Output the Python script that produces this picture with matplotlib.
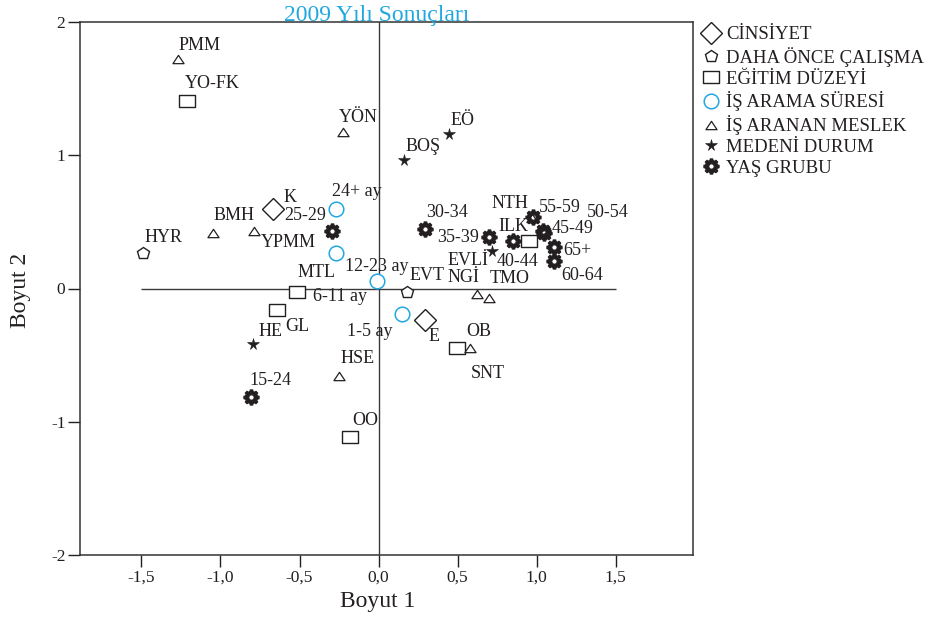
import numpy as np
import matplotlib
matplotlib.use('Agg')
import matplotlib.pyplot as plt
from matplotlib.path import Path
from matplotlib.lines import Line2D

plt.rcParams['font.family'] = ['Liberation Serif', 'DejaVu Serif']

# ---- data (Boyut 1, Boyut 2) ----
cinsiyet_names = ['K', 'E']
cinsiyet_x = [-0.668, 0.294]
cinsiyet_y = [0.593, -0.240]

calisma_names = ['HYR', 'EVT']
calisma_x = [-1.490, 0.180]
calisma_y = [0.263, -0.023]

egitim_names = ['YO-FK', 'MTL', 'GL', 'OB', 'OO', 'ILK']
egitim_x = [-1.212, -0.516, -0.642, 0.497, -0.180, 0.953]
egitim_y = [1.410, -0.023, -0.158, -0.450, -1.111, 0.353]

arama_names = ['24+ ay', '12-23 ay', '6-11 ay', '1-5 ay']
arama_x = [-0.269, -0.269, -0.009, 0.149]
arama_y = [0.593, 0.270, 0.053, -0.195]

meslek_names = ['PMM', 'YÖN', 'BMH', 'YPMM', 'HSE', 'NGİ', 'TMO', 'SNT', 'NTH']
meslek_x = [-1.269, -0.225, -1.047, -0.788, -0.250, 0.623, 0.699, 0.579, 0.970]
meslek_y = [1.726, 1.171, 0.420, 0.428, -0.653, -0.045, -0.068, -0.443, 0.530]

medeni_names = ['EÖ', 'BOŞ', 'EVLİ', 'HE']
medeni_x = [0.446, 0.161, 0.718, -0.794]
medeni_y = [1.163, 0.961, 0.285, -0.413]

yas_names = ['15-24', '25-29', '30-34', '35-39', '40-44', '45-49',
             '50-54', '55-59', '60-64', '65+']
yas_x = [-0.807, -0.294, 0.294, 0.699, 0.851, 1.047, 1.040, 0.978, 1.111, 1.111]
yas_y = [-0.818, 0.428, 0.450, 0.383, 0.353, 0.420, 0.430, 0.533, 0.203, 0.308]

# label offsets from the marker, in pixels (dx right, dy up)
label_offsets = {
    'K': (17, 12), 'E': (9, -16),
    'HYR': (20, 16), 'EVT': (20, 16),
    'YO-FK': (25, 17), 'MTL': (20, 19), 'GL': (20, -17), 'OB': (22, 17),
    'OO': (15, 16), 'ILK': (-16, 15),
    '24+ ay': (21, 18), '12-23 ay': (41, -14), '6-11 ay': (-37, -15),
    '1-5 ay': (-32, -17),
    'PMM': (22, 13), 'YÖN': (15, 15), 'BMH': (21, 17), 'YPMM': (34, -11),
    'HSE': (19, 17), 'NGİ': (-14, 17), 'TMO': (21, 19), 'SNT': (18, -26),
    'NTH': (-22, 14),
    'EÖ': (14, 13), 'BOŞ': (19, 14), 'EVLİ': (-24, -10), 'HE': (17, 12),
    '15-24': (19, 17), '25-29': (-27, 16), '30-34': (22, 16), '35-39': (-31, 0),
    '40-44': (4, -20), '45-49': (29, 4), '50-54': (65, 19), '55-59': (27, 10),
    '60-64': (28, -14), '65+': (23, -3),
}

ink = '#231f20'
cyan = '#22a8e1'

# ---- custom markers ----
rect = Path([(-1, -0.8), (1, -0.8), (1, 0.8), (-1, 0.8), (-1, -0.8)], closed=True)
tri = Path([(0, 0.75), (-1, -0.75), (1, -0.75), (0, 0.75)], closed=True)


def gear_path(n=8, rb=0.80, rt=1.0, rh=0.34):
    a = 2 * np.pi / n
    pts = []
    for t in np.arange(n) * a + np.pi / 2:
        for r, d in [(rb, -0.34), (rt, -0.22), (rt, 0.22), (rb, 0.34)]:
            pts.append((r * np.cos(t + d * a), r * np.sin(t + d * a)))
    pts.append(pts[0])
    th = np.linspace(2 * np.pi, 0, 25)
    hole = list(zip(rh * np.cos(th), rh * np.sin(th)))
    return Path.make_compound_path(Path(pts, closed=True), Path(hole, closed=True))


gear = gear_path()

groups = [
    ('CİNSİYET', cinsiyet_names, cinsiyet_x, cinsiyet_y,
     dict(marker='D', ms=11, mfc='white', mec=ink, mew=1.0)),
    ('DAHA ÖNCE ÇALIŞMA', calisma_names, calisma_x, calisma_y,
     dict(marker='p', ms=9, mfc='white', mec=ink, mew=1.0)),
    ('EĞİTİM DÜZEYİ', egitim_names, egitim_x, egitim_y,
     dict(marker=rect, ms=11.5, mfc='white', mec=ink, mew=1.0)),
    ('İŞ ARAMA SÜRESİ', arama_names, arama_x, arama_y,
     dict(marker='o', ms=10.5, mfc='white', mec=cyan, mew=1.1)),
    ('İŞ ARANAN MESLEK', meslek_names, meslek_x, meslek_y,
     dict(marker=tri, ms=8, mfc='white', mec=ink, mew=0.9)),
    ('MEDENİ DURUM', medeni_names, medeni_x, medeni_y,
     dict(marker='*', ms=8.5, mfc=ink, mec=ink, mew=0.4)),
    ('YAŞ GRUBU', yas_names, yas_x, yas_y,
     dict(marker=gear, ms=11, mfc=ink, mec=ink, mew=0.7)),
]

W, H = 937, 618
fig = plt.figure(figsize=(W / 100, H / 100), dpi=100)
ax = fig.add_axes([80 / W, 1 - 555 / H, (693 - 80) / W, (555 - 22) / H])

xticks = [-1.5, -1.0, -0.5, 0.0, 0.5, 1.0, 1.5]
yticks = [-2, -1, 0, 1, 2]

# reference lines through the origin
ax.hlines(0, xticks[0], xticks[-1], color='#3a3a3a', lw=1.0, zorder=1)
ax.axvline(0, color='#3a3a3a', lw=1.0, zorder=1)

handles = []
for gname, names, xs, ys, style in groups:
    ax.plot(xs, ys, ls='none', zorder=3, **style)
    for n, x, y in zip(names, xs, ys):
        dx, dy = label_offsets[n]
        ax.annotate(n, (x, y), xytext=(dx, dy), textcoords='offset pixels',
                    ha='center', va='center', fontsize=13, color=ink, zorder=4)
    handles.append(Line2D([], [], ls='none', label=gname, **style))

ax.set_xlim(-1.889, 1.990)
ax.set_ylim(-2, 2)
ax.set_xticks(xticks)
ax.set_xticklabels([('%.1f' % v).replace('.', ',') for v in xticks])
ax.set_yticks(yticks)
ax.set_yticklabels(['%d' % v for v in yticks])
ax.tick_params(direction='out', length=8.5, width=1.0, labelsize=12.5,
               pad=2, colors=ink)
for sp in ax.spines.values():
    sp.set_color('#333333')
    sp.set_linewidth(1.1)

fig.text(377 / W, 1 - 21 / H, '2009 Yılı Sonuçları', color=cyan, fontsize=17,
         ha='center', va='baseline')
fig.text(378 / W, 1 - 601 / H, 'Boyut 1', fontsize=17, color=ink,
         ha='center', va='center')
fig.text(21 / W, 1 - 290 / H, 'Boyut 2', fontsize=17, color=ink,
         rotation=90, ha='center', va='center')

fig.legend(handles=handles, loc='upper left', bbox_to_anchor=(702 / W, 1 - 26 / H),
           frameon=False, fontsize=13.5, handlelength=1.0, handletextpad=0.3,
           labelspacing=0.2, borderpad=0, borderaxespad=0, labelcolor=ink)

fig.savefig('out.png', dpi=100)
